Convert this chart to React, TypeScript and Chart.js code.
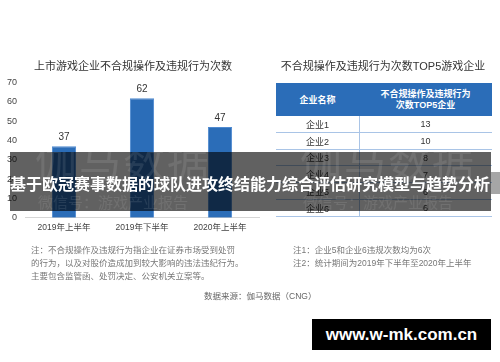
import React, { useEffect, useRef } from "react";
import { Chart, registerables } from "chart.js";

Chart.register(...registerables);

const categories = ["2019年上半年", "2019年下半年", "2020年上半年"];
const counts = [37, 62, 47];
const yMax = 70;
const yStep = 10;

const companies = ["企业1", "企业2", "企业3", "企业4", "企业5", "企业6"];
const companyCounts = [13, 10, 8, 7, 6, 6];
const tableHeaders = ["企业名称", "不合规操作及违规行为\n次数TOP5企业"];

const leftTitle = "上市游戏企业不合规操作及违规行为次数";
const rightTitle = "不合规操作及违规行为次数TOP5游戏企业";
const leftNotes = [
  "注：不合规操作及违规行为指企业在证券市场受到处罚",
  "的行为，以及对股价造成加到较大影响的违法违纪行为。",
  "主要包含监管函、处罚决定、公安机关立案等。",
];
const rightNotes = ["注1：企业5和企业6违规次数均为6次", "注2：统计期间为2019年下半年至2020年上半年"];
const sourceText = "数据来源：伽马数据（CNG）";
const bannerText = "基于欧冠赛事数据的球队进攻终结能力综合评估研究模型与趋势分析";
const watermarkMain = "伽马数据";
const watermarkSub = "微信号：游戏产业报告";
const siteText = "www.w-mk.com.cn";

const FONT = "'Liberation Sans', 'Noto Sans CJK SC', sans-serif";
const BLUE = "#2b6db8";
const LINE = "#a9c4e6";

const labelPlugin = {
  id: "barValueLabels",
  afterDatasetsDraw(chart: any) {
    const ctx = chart.ctx;
    const meta = chart.getDatasetMeta(0);
    ctx.save();
    ctx.font = `10px ${FONT}`;
    ctx.fillStyle = "#333";
    ctx.textAlign = "center";
    ctx.textBaseline = "bottom";
    meta.data.forEach((bar: any, i: number) => {
      ctx.fillText(String(counts[i]), bar.x, bar.y - 4);
    });
    ctx.restore();
  },
};

function Txt(props: { x: number; y: number; size: number; color?: string; bold?: boolean; children: any; center?: boolean; w?: number }) {
  const { x, y, size, color = "#333", bold, center, w } = props;
  const style: any = {
    position: "absolute",
    top: y - size / 2 - 1,
    fontSize: size,
    lineHeight: `${size + 2}px`,
    color,
    fontWeight: bold ? 700 : 400,
    whiteSpace: "nowrap",
    fontFamily: FONT,
  };
  if (center) {
    const width = w ?? 300;
    style.left = x - width / 2;
    style.width = width;
    style.textAlign = "center";
  } else {
    style.left = x;
  }
  return <div style={style}>{props.children}</div>;
}

export default function App() {
  const canvasRef = useRef<HTMLCanvasElement | null>(null);

  useEffect(() => {
    document.body.style.margin = "0";
    const canvas = canvasRef.current;
    if (!canvas) return;
    const chart = new Chart(canvas, {
      type: "bar",
      data: {
        labels: categories,
        datasets: [
          {
            data: counts,
            backgroundColor: BLUE,
            borderColor: "#4f8ad0",
            borderWidth: 1,
            barPercentage: 0.31,
            categoryPercentage: 1.0,
          },
        ],
      },
      options: {
        responsive: false,
        animation: false,
        devicePixelRatio: 1,
        layout: { padding: { left: 0, top: 82.7, right: 241, bottom: 124.3 } },
        plugins: { legend: { display: false }, tooltip: { enabled: false }, title: { display: false } },
        scales: {
          x: {
            grid: { display: false, drawTicks: false },
            border: { display: true, color: "#d6d6d6" },
            ticks: { font: { size: 8.5, family: FONT }, color: "#444", padding: 5 },
            afterFit: (s: any) => {
              s.height = 20;
            },
          },
          y: {
            min: 0,
            max: yMax,
            grid: { display: false, drawTicks: false },
            border: { display: false },
            ticks: { stepSize: yStep, font: { size: 9, family: FONT }, color: "#444", padding: 8 },
            afterFit: (s: any) => {
              s.width = 25;
            },
          },
        },
      },
      plugins: [labelPlugin],
    });
    return () => chart.destroy();
  }, []);

  const headerTop = 83;
  const headerH = 33;
  const rowH = 16.8;
  const col1 = 83;
  const tableW = 216;

  return (
    <div style={{ position: "fixed", left: 0, top: 0, width: 500, height: 362, background: "#fff", overflow: "hidden", fontFamily: FONT }}>
      <canvas ref={canvasRef} width={500} height={362} style={{ position: "absolute", left: 0, top: 0, width: 500, height: 362 }} />

      <Txt x={133} y={66} size={11} center>{leftTitle}</Txt>
      <Txt x={383} y={66} size={11} center>{rightTitle}</Txt>

      {/* table */}
      <div style={{ position: "absolute", left: 276, top: headerTop, width: tableW, height: headerH, background: BLUE }}>
        <div style={{ position: "absolute", left: 0, width: col1, top: 0, height: headerH, display: "flex", alignItems: "center", justifyContent: "center", color: "#fff", fontWeight: 700, fontSize: 9, fontFamily: FONT }}>
          {tableHeaders[0]}
        </div>
        <div style={{ position: "absolute", left: col1, width: tableW - col1, top: 0, height: headerH, display: "flex", alignItems: "center", justifyContent: "center", textAlign: "center", color: "#fff", fontWeight: 700, fontSize: 9, lineHeight: "11px", whiteSpace: "pre", fontFamily: FONT }}>
          {tableHeaders[1]}
        </div>
      </div>
      <div style={{ position: "absolute", left: 276 + col1, top: headerTop + headerH, width: 1, height: rowH * companies.length, background: LINE }} />
      {companies.map((c, i) => (
        <div key={c} style={{ position: "absolute", left: 276, top: headerTop + headerH + i * rowH, width: tableW, height: rowH, borderBottom: `1px solid ${LINE}`, boxSizing: "border-box", fontSize: 9, color: "#333", fontFamily: FONT }}>
          <div style={{ position: "absolute", left: 0, width: col1, top: 0, height: rowH, display: "flex", alignItems: "center", justifyContent: "center" }}>{c}</div>
          <div style={{ position: "absolute", left: col1, width: tableW - col1, top: 0, height: rowH, display: "flex", alignItems: "center", justifyContent: "center" }}>{companyCounts[i]}</div>
        </div>
      ))}

      {/* notes */}
      {leftNotes.map((t, i) => (
        <Txt key={t} x={31} y={250 + i * 13} size={8.5} color="#777">{t}</Txt>
      ))}
      {rightNotes.map((t, i) => (
        <Txt key={t} x={293} y={250 + i * 13} size={8.5} color="#777">{t}</Txt>
      ))}
      <Txt x={204} y={296} size={8.5} color="#666">{sourceText}</Txt>

      {/* overlay */}
      <div style={{ position: "absolute", left: 491, top: 172, width: 9, height: 22, background: "rgba(0,0,0,0.35)" }} />
      <div style={{ position: "absolute", left: 10, top: 152, width: 481, height: 59, background: "rgba(0,0,0,0.62)", overflow: "hidden" }}>
        {[25, 290].map((lx) => (
          <React.Fragment key={lx}>
            <div style={{ position: "absolute", left: lx, top: -12, fontSize: 42, lineHeight: "46px", color: "rgba(255,255,255,0.09)", whiteSpace: "nowrap", fontFamily: FONT, letterSpacing: 2 }}>{watermarkMain}</div>
            <div style={{ position: "absolute", left: lx + 3, top: 42, fontSize: 15, lineHeight: "18px", color: "rgba(255,255,255,0.09)", whiteSpace: "nowrap", fontFamily: FONT }}>{watermarkSub}</div>
          </React.Fragment>
        ))}
      </div>
      <div style={{ position: "absolute", left: 0, width: 500, top: 183 - 10, fontSize: 16, lineHeight: "20px", color: "#fff", fontWeight: 700, textAlign: "center", whiteSpace: "nowrap", fontFamily: "'Noto Sans CJK SC', sans-serif" }}>
        {bannerText}
      </div>

      {/* site box */}
      <div style={{ position: "absolute", left: 312, top: 319, width: 179, height: 31, background: "#000", color: "#fff", fontWeight: 700, fontSize: 17, display: "flex", alignItems: "center", justifyContent: "center", fontFamily: "'Liberation Sans', sans-serif" }}>
        {siteText}
      </div>
    </div>
  );
}
